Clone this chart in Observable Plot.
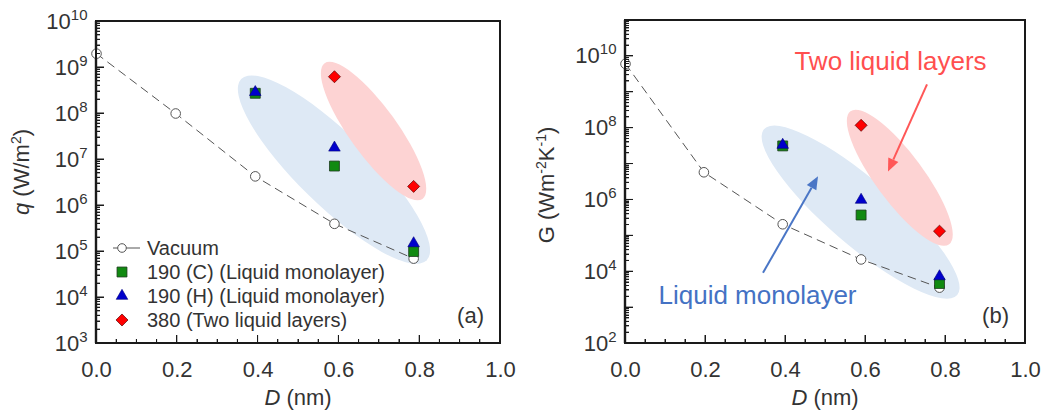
<!DOCTYPE html>
<html><head><meta charset="utf-8">
<script src="https://cdn.jsdelivr.net/npm/d3@7"></script>
<script src="https://cdn.jsdelivr.net/npm/@observablehq/plot@0.6"></script>
<style>
body{margin:0;background:#fff;font-family:"Liberation Sans",Arial,sans-serif;}
#wrap{position:relative;width:1048px;height:417px;overflow:hidden;background:#fff}
#wrap > svg{position:absolute;top:0}
#legend{position:absolute;left:105px;top:236px;font:20px "Liberation Sans",Arial,sans-serif;color:#333}
#legend .row{display:flex;align-items:center;height:24px;white-space:nowrap}
.fb{position:absolute;background:#1a1a1a;pointer-events:none}
</style></head><body><div id="wrap"><div id="legend"></div></div>
<script>
// ---------- data ----------
const D_vac = [0, 0.196, 0.393, 0.589, 0.785];
const D_liq = [0.393, 0.589, 0.785];
const D_two = [0.589, 0.785];
const qVacuum = [2.0e9, 1.0e8, 4.3e6, 4.0e5, 7.0e4];
const q190C = [2.75e8, 7.2e6, 1.0e5];
const q190H = [2.9e8, 1.8e7, 1.5e5];
const q380 = [6.3e8, 2.6e6];
const GVacuum = [6.2e9, 5.9e6, 2.1e5, 2.2e4, 3.6e3];
const G190C = [3.2e7, 3.8e5, 4.7e3];
const G190H = [3.4e7, 1.0e6, 7.4e3];
const G380 = [1.2e8, 1.35e5];
const seriesNames = ["Vacuum", "190 (C) (Liquid monolayer)", "190 (H) (Liquid monolayer)", "380 (Two liquid layers)"];
const xTickValues = [0, 0.2, 0.4, 0.6, 0.8, 1.0];
const qLabelExp = [3, 4, 5, 6, 7, 8, 9, 10];
const GLabelExp = [2, 4, 6, 8, 10];
const annotTexts = ["Two liquid layers", "Liquid monolayer"];
const annotTwoAt = [0.6625, 7.1e9];
const annotMonoAt = [0.33, 2.2e3];
const arrowTwo = [[0.755, 1.6e9], [0.6575, 6e6]];
const arrowMono = [[0.345, 9e3], [0.4825, 4.4e6]];

// ---------- styles ----------
const FONT = "'Liberation Sans', Arial, sans-serif";
const TXT = "#333";
const AXC = "#1a1a1a";
const diamond = {draw(ctx, size){ const h = Math.sqrt(size/2); ctx.moveTo(0,-h); ctx.lineTo(h,0); ctx.lineTo(0,h); ctx.lineTo(-h,0); ctx.closePath(); }};
const sty = {
  vac: {r: 4.8, fill: "white", stroke: "#555", strokeWidth: 1},
  C: {symbol: "square", r: 5.6, fill: "#118a11", stroke: "#1c3a1c", strokeWidth: 0.8},
  H: {symbol: "triangle", r: 4.3, fill: "#0000cc", stroke: "#00007a", strokeWidth: 0.6},
  T: {symbol: diamond, r: 4.8, fill: "#ff0000", stroke: "#5a0000", strokeWidth: 0.7}
};

const rows = (xs, ys) => xs.map((x, i) => ({x, y: ys[i]}));
const gm = (a, b) => Math.sqrt(a * b);

function frameAndTicks(lo, hi) {
  return (index, s, values, dims) => {
    const x0 = dims.marginLeft, y0 = dims.height - dims.marginBottom;
    const x1 = dims.width - dims.marginRight, y1 = dims.marginTop;
    const d = `M${x0},${y1}H${x1}V${y0}H${x0}Z`;
    let t = "";
    for (let e = lo; e <= hi; e++) {
      t += `M${x0},${s.y(10 ** e)}h8`;
      if (e < hi) for (let m = 2; m <= 9; m++) t += `M${x0},${s.y(m * 10 ** e)}h4`;
    }
    for (let k = 0; k <= 20; k++) t += `M${s.x(k / 20)},${y0}v${(k % 4 === 0) ? -8 : -4}`;
    const g = d3.create("svg:g");
    g.append("path").attr("d", d).attr("fill", "none").attr("stroke", AXC).attr("stroke-width", 1.6);
    g.append("path").attr("d", `M${x0},${y1}V${y0}`).attr("fill", "none").attr("stroke", AXC).attr("stroke-width", 2.4);
    g.append("path").attr("d", t).attr("fill", "none").attr("stroke", AXC).attr("stroke-width", 1);
    return g.node();
  };
}

function ellipseMark(ends, pad, ry, fill) {
  return (index, s) => {
    const [a, b] = ends;
    const p = [s.x(a[0]), s.y(a[1])], q = [s.x(b[0]), s.y(b[1])];
    const cx = (p[0] + q[0]) / 2, cy = (p[1] + q[1]) / 2;
    const ang = Math.atan2(q[1] - p[1], q[0] - p[0]) * 180 / Math.PI;
    const rx = Math.hypot(q[0] - p[0], q[1] - p[1]) / 2 + pad;
    return d3.create("svg:ellipse").attr("cx", 0).attr("cy", 0).attr("rx", rx).attr("ry", ry)
      .attr("transform", `translate(${cx},${cy}) rotate(${ang})`).attr("fill", fill).node();
  };
}

function arrowMark(ends, color) {
  return (index, s) => {
    const [a, b] = ends;
    const x1 = s.x(a[0]), y1 = s.y(a[1]), x2 = s.x(b[0]), y2 = s.y(b[1]);
    const t = Math.atan2(y2 - y1, x2 - x1), L = 13, w = 5.5;
    const bx = x2 - L * Math.cos(t), by = y2 - L * Math.sin(t);
    const g = d3.create("svg:g");
    g.append("line").attr("x1", x1).attr("y1", y1).attr("x2", bx).attr("y2", by).attr("stroke", color).attr("stroke-width", 2);
    g.append("polygon").attr("points", `${x2},${y2} ${bx + w*Math.sin(t)},${by - w*Math.cos(t)} ${bx - w*Math.sin(t)},${by + w*Math.cos(t)}`).attr("fill", color);
    return g.node();
  };
}

function panelLabel(txt) {
  return (index, s, v, dims) => d3.create("svg:text").attr("x", dims.width - dims.marginRight - 16)
    .attr("y", dims.height - dims.marginBottom - 20).attr("text-anchor", "end")
    .attr("font-size", 22).attr("font-family", FONT).attr("fill", TXT).text(txt).node();
}

function makePanel(cfg) {
  const {width, margins, lo, hi, labelExp, vac, C, H, T, blueEnds, redEnds, bluePad, blueRy, redPad, redRy, extra, tag} = cfg;
  const plot = Plot.plot({
    width, height: 417, ...margins,
    style: {fontFamily: FONT, background: "transparent", overflow: "visible"},
    x: {domain: [0, 1]},
    y: {type: "log", domain: [10 ** lo, 10 ** hi]},
    marks: [
      ellipseMark(blueEnds, bluePad, blueRy, "#dee9f5"),
      ellipseMark(redEnds, redPad, redRy, "#fdd3d3"),
      Plot.line(rows(D_vac, vac), {x: "x", y: "y", stroke: "#555", strokeWidth: 1, strokeDasharray: "8,6"}),
      frameAndTicks(lo, hi),
      Plot.dot(rows(D_vac, vac), {x: "x", y: "y", ...sty.vac}),
      Plot.dot(rows(D_liq, C), {x: "x", y: "y", ...sty.C}),
      Plot.dot(rows(D_liq, H), {x: "x", y: "y", ...sty.H}),
      Plot.dot(rows(D_two, T), {x: "x", y: "y", ...sty.T}),
      ...extra,
      Plot.axisX(xTickValues, {tickSize: 0, tickPadding: 18, tickFormat: d3.format(".1f"), fontSize: 22, fill: TXT, label: null}),
      Plot.axisY(labelExp.map(e => 10 ** e), {tickSize: 0, tickPadding: 9, tickFormat: d => String(Math.round(Math.log10(d))), fontSize: 22, fill: TXT, label: null}),
      panelLabel(tag)
    ]
  });
  plot.querySelectorAll('g[aria-label="y-axis tick label"] text').forEach(t => {
    const e = t.textContent; t.textContent = "";
    const ns = "http://www.w3.org/2000/svg";
    const a = document.createElementNS(ns, "tspan"); a.textContent = "10";
    const b = document.createElementNS(ns, "tspan"); b.textContent = e;
    b.setAttribute("dy", "-9"); b.setAttribute("font-size", "15");
    t.appendChild(a); t.appendChild(b);
  });
  return plot;
}

function addTitles(svg, yParts, yBaseX, yCenter, xCenter) {
  const s = d3.select(svg);
  const yt = s.append("text").attr("transform", `translate(${yBaseX},${yCenter}) rotate(-90)`)
    .attr("text-anchor", "middle").attr("font-size", 22).attr("font-family", FONT).attr("fill", TXT);
  for (const p of yParts) {
    const ts = yt.append("tspan").text(p.t);
    if (p.i) ts.attr("font-style", "italic");
    if (p.small) ts.attr("font-size", 14);
    if (p.dy) ts.attr("dy", p.dy);
  }
  const xt = s.append("text").attr("x", xCenter).attr("y", 405).attr("text-anchor", "middle")
    .attr("font-size", 22).attr("font-family", FONT).attr("fill", TXT);
  xt.append("tspan").text("D").attr("font-style", "italic");
  xt.append("tspan").text(" (nm)");
}

function htmlFrame(plot, left, lo, hi) {
  const xs = plot.scale("x"), ys = plot.scale("y");
  const X = v => left + xs.apply(v), Y = v => ys.apply(v);
  const x0 = X(0), x1 = X(1), yT = Y(10 ** hi), yB = Y(10 ** lo);
  const box = (l, t, w, h) => {
    const d = document.createElement("div"); d.className = "fb";
    d.style.left = l + "px"; d.style.top = t + "px"; d.style.width = w + "px"; d.style.height = h + "px";
    wrap.appendChild(d);
  };
  box(x0 - 1.2, yT - 0.8, 2.4, yB - yT + 1.6);
  box(x1 - 0.8, yT - 0.8, 1.6, yB - yT + 1.6);
  box(x0 - 0.8, yT - 0.8, x1 - x0 + 1.6, 1.6);
  box(x0 - 0.8, yB - 0.8, x1 - x0 + 1.6, 1.6);
  for (let e = lo; e <= hi; e++) {
    box(x0, Y(10 ** e) - 0.5, 8, 1);
    if (e < hi) for (let m = 2; m <= 9; m++) box(x0, Y(m * 10 ** e) - 0.5, 4, 1);
  }
  for (let k = 0; k <= 20; k++) { const len = (k % 4 === 0) ? 8 : 4; box(X(k / 20) - 0.5, yB - len, 1, len); }
}

const wrap = document.getElementById("wrap");
const legendDiv = document.getElementById("legend");

const pa = makePanel({
  width: 520, margins: {marginLeft: 96, marginRight: 20, marginTop: 21, marginBottom: 74},
  lo: 3, hi: 10, labelExp: qLabelExp, vac: qVacuum, C: q190C, H: q190H, T: q380,
  blueEnds: [[D_liq[0], gm(q190C[0], q190H[0])], [D_liq[2], gm(q190C[2], q190H[2])]],
  redEnds: [[D_two[0], q380[0]], [D_two[1], q380[1]]],
  bluePad: 19, blueRy: 36, redPad: 16, redRy: 24, extra: [], tag: "(a)"
});
addTitles(pa, [{t: "q", i: true}, {t: " (W/m"}, {t: "2", small: true, dy: -8}, {t: ")", dy: 8}], 29, 172, 298);

const pb = makePanel({
  width: 528, margins: {marginLeft: 105, marginRight: 23, marginTop: 20, marginBottom: 74},
  lo: 2, hi: 11, labelExp: GLabelExp, vac: GVacuum, C: G190C, H: G190H, T: G380,
  blueEnds: [[D_liq[0], gm(G190C[0], G190H[0])], [D_liq[2], gm(G190C[2], G190H[2])]],
  redEnds: [[D_two[0], G380[0]], [D_two[1], G380[1]]],
  bluePad: 24, blueRy: 33, redPad: 17, redRy: 24,
  extra: [
    arrowMark(arrowTwo, "#ff5757"),
    arrowMark(arrowMono, "#4a76c6"),
    Plot.text([annotTexts[0]], {x: () => annotTwoAt[0], y: () => annotTwoAt[1], text: d => d, fontSize: 26, fill: "#ff4f4f"}),
    Plot.text([annotTexts[1]], {x: () => annotMonoAt[0], y: () => annotMonoAt[1], text: d => d, fontSize: 26, fill: "#4472c4"})
  ],
  tag: "(b)"
});
addTitles(pb, [{t: "G (Wm"}, {t: "-2", small: true, dy: -8}, {t: "K", dy: 8}, {t: "-1", small: true, dy: -8}, {t: ")", dy: 8}], 34, 185, 305);

for (const [el, left] of [[pa, 0], [pb, 520]]) {
  el.style.left = left + "px";
  wrap.insertBefore(el, legendDiv);
}
htmlFrame(pa, 0, 3, 10);
htmlFrame(pb, 520, 2, 11);

// ---------- legend ----------
const legSty = [null, sty.C, sty.H, sty.T];
seriesNames.forEach((name, i) => {
  const row = document.createElement("div"); row.className = "row";
  const sv = d3.create("svg").attr("width", 42).attr("height", 24);
  if (i === 0) {
    sv.append("line").attr("x1", 8).attr("x2", 35).attr("y1", 12).attr("y2", 12).attr("stroke", "#555").attr("stroke-width", 1);
    sv.append("circle").attr("cx", 17).attr("cy", 12).attr("r", 4.3).attr("fill", "white").attr("stroke", "#555");
  } else {
    const st = legSty[i];
    const type = st.symbol === "square" ? d3.symbolSquare : st.symbol === "triangle" ? d3.symbolTriangle : st.symbol;
    sv.append("path").attr("d", d3.symbol(type, st.r * st.r * Math.PI)()).attr("transform", "translate(17,12)")
      .attr("fill", st.fill).attr("stroke", st.stroke).attr("stroke-width", st.strokeWidth);
  }
  row.appendChild(sv.node());
  const sp = document.createElement("span"); sp.textContent = name; row.appendChild(sp);
  legendDiv.appendChild(row);
});
</script></body></html>
